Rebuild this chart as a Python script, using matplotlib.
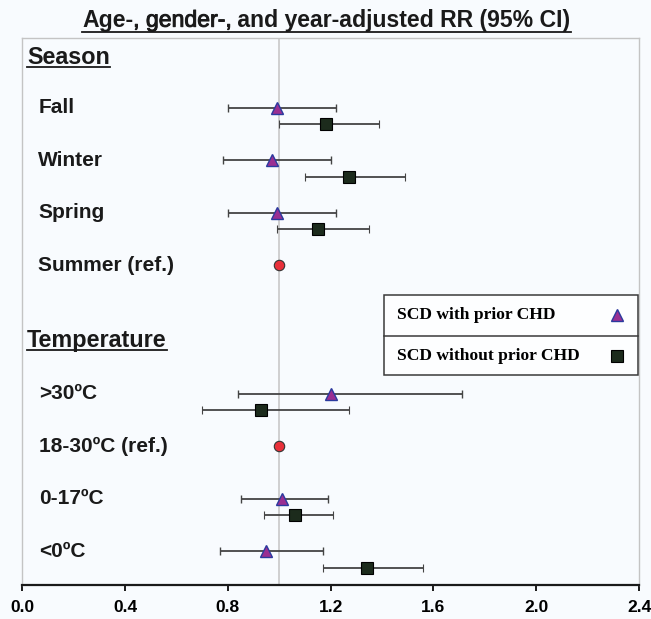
import matplotlib.pyplot as plt
import matplotlib.patheffects as pe
from matplotlib.lines import Line2D
from matplotlib.patches import Rectangle

# categories
season_labels = ['Fall', 'Winter', 'Spring', 'Summer (ref.)']
temp_labels = ['>30ºC', '18-30ºC (ref.)', '0-17ºC', '<0ºC']
season_ref = 3
temp_ref = 1

# SCD with prior CHD (RR, lower, upper); reference rows are 1.0
season_with_rr = [0.99, 0.97, 0.99, 1.0]
season_with_lo = [0.80, 0.78, 0.80, 1.0]
season_with_hi = [1.22, 1.20, 1.22, 1.0]
temp_with_rr = [1.20, 1.0, 1.01, 0.95]
temp_with_lo = [0.84, 1.0, 0.85, 0.77]
temp_with_hi = [1.71, 1.0, 1.19, 1.17]

# SCD without prior CHD
season_without_rr = [1.18, 1.27, 1.15, 1.0]
season_without_lo = [1.00, 1.10, 0.99, 1.0]
season_without_hi = [1.39, 1.49, 1.35, 1.0]
temp_without_rr = [0.93, 1.0, 1.06, 1.34]
temp_without_lo = [0.70, 1.0, 0.94, 1.17]
temp_without_hi = [1.27, 1.0, 1.21, 1.56]

xticks = [0.0, 0.4, 0.8, 1.2, 1.6, 2.0, 2.4]

bg = '#f8fbfe'
tri_face, tri_edge = '#9a2f92', '#2b3a9e'
sq_face, sq_edge = '#1c2b1c', '#000000'
ref_face, ref_edge = '#e8303a', '#333333'
bar_color = '#444444'

W, H = 651, 619
fig = plt.figure(figsize=(W / 100, H / 100), dpi=100, facecolor=bg)
ax = fig.add_axes([22.3 / W, 1 - 585 / H, (639 - 22.3) / W, (585 - 37.5) / H])
ax.set_facecolor(bg)
ax.set_xlim(0, 2.4)
ax.set_ylim(10.09, -0.343)

season_y = [1, 2, 3, 4]
temp_y = [6.45, 7.45, 8.45, 9.45]
sq_off = 0.31

ax.axvline(1.0, color='#c8c8c8', lw=1.2, zorder=0)


def draw_group(ys, ref, w_rr, w_lo, w_hi, o_rr, o_lo, o_hi):
    for i, y in enumerate(ys):
        if i == ref:
            ax.plot(w_rr[i], y, 'o', ms=7.5, mfc=ref_face, mec=ref_edge, mew=0.8, zorder=4)
            continue
        ax.errorbar(w_rr[i], y, xerr=[[w_rr[i] - w_lo[i]], [w_hi[i] - w_rr[i]]],
                    fmt='^', ms=8.5, mfc=tri_face, mec=tri_edge, mew=1.0,
                    ecolor=bar_color, elinewidth=1.3, capsize=2.8, capthick=1.3, zorder=3)
        ax.errorbar(o_rr[i], y + sq_off, xerr=[[o_rr[i] - o_lo[i]], [o_hi[i] - o_rr[i]]],
                    fmt='s', ms=8, mfc=sq_face, mec=sq_edge, mew=0.8,
                    ecolor=bar_color, elinewidth=1.3, capsize=2.8, capthick=1.3, zorder=3)


draw_group(season_y, season_ref, season_with_rr, season_with_lo, season_with_hi,
           season_without_rr, season_without_lo, season_without_hi)
draw_group(temp_y, temp_ref, temp_with_rr, temp_with_lo, temp_with_hi,
           temp_without_rr, temp_without_lo, temp_without_hi)

# row labels
for lab, y in zip(season_labels, season_y):
    ax.text(0.062, y, lab, fontsize=15, fontweight='bold', color='#1a1a1a',
            family='Liberation Sans', va='center', ha='left')
for lab, y in zip(temp_labels, temp_y):
    ax.text(0.065, y, lab, fontsize=15, fontweight='bold', color='#1a1a1a',
            family='Liberation Sans', va='center', ha='left')
headers = []
for lab, y in [('Season', 0.16), ('Temperature', 5.55)]:
    headers.append(ax.text(0.018, y, lab, fontsize=16.8, fontweight='bold', color='#1a1a1a',
                           family='Liberation Sans', va='baseline', ha='left'))

# spines and ticks
for s in ['top', 'left', 'right']:
    ax.spines[s].set_color('#c4c4c4')
    ax.spines[s].set_linewidth(1.0)
ax.spines['bottom'].set_color('#1a1a1a')
ax.spines['bottom'].set_linewidth(1.6)
ax.set_yticks([])
ax.set_xticks(xticks)
ax.set_xticklabels([f'{t:.1f}' for t in xticks])
ax.tick_params(axis='x', direction='out', length=4, width=1.4, color='#1a1a1a',
               pad=7, labelsize=12.5)
for t in ax.get_xticklabels():
    t.set_fontweight('bold')
    t.set_family('Liberation Sans')

# legend box
lx0, lx1 = 0.5865, 0.998
ly0, lym, ly1 = 0.3831, 0.4549, 0.5304
ax.add_patch(Rectangle((lx0, ly0), lx1 - lx0, ly1 - ly0, transform=ax.transAxes,
                       facecolor='#fdfeff', edgecolor='#3a3a3a', lw=1.1, zorder=5))
ax.add_artist(Line2D([lx0, lx1], [lym, lym], transform=ax.transAxes, color='#3a3a3a', lw=1.1, zorder=6))
ax.text(0.6076, 0.4926, 'SCD with prior CHD', transform=ax.transAxes, family='Liberation Serif',
        fontweight='bold', fontsize=12.6, va='center', ha='left', zorder=6)
ax.text(0.6076, 0.4190, 'SCD without prior CHD', transform=ax.transAxes, family='Liberation Serif',
        fontweight='bold', fontsize=12.6, va='center', ha='left', zorder=6)
ax.plot(0.9643, 0.4926, '^', ms=8.5, mfc=tri_face, mec=tri_edge, mew=1.0, transform=ax.transAxes, zorder=7)
ax.plot(0.9643, 0.4190, 's', ms=8, mfc=sq_face, mec=sq_edge, mew=0.8, transform=ax.transAxes, zorder=7)

# title in three pieces (middle part lighter)
title_parts = [('Age-', 'bold'), (', gender-,', 'normal'), (' and year-adjusted RR (95% CI)', 'bold')]
fig.canvas.draw()
r = fig.canvas.get_renderer()
x = 82
base = H - 26.7
pieces = []
for txt, wt in title_parts:
    t = fig.text(x / W, base / H, txt, fontsize=16.6, fontweight=wt, family='Liberation Sans',
                 color='#1a1a1a', ha='left', va='baseline')
    if wt == 'normal':
        t.set_path_effects([pe.withStroke(linewidth=0.7, foreground='#1a1a1a')])
    fig.canvas.draw()
    bb = t.get_window_extent(r)
    x = bb.x1
    pieces.append(t)
x_start = pieces[0].get_window_extent(r).x0
fig.add_artist(Line2D([x_start / W, x / W], [(base - 5) / H, (base - 5) / H],
                      transform=fig.transFigure, color='#1a1a1a', lw=1.3))

# underline headers
for h in headers:
    bb = h.get_window_extent(r)
    yb = ax.transData.transform((0, h.get_position()[1]))[1] - 3
    fig.add_artist(Line2D([bb.x0 / W, bb.x1 / W], [yb / H, yb / H],
                          transform=fig.transFigure, color='#1a1a1a', lw=1.3))

fig.savefig('out.png', dpi=100, facecolor=bg)
